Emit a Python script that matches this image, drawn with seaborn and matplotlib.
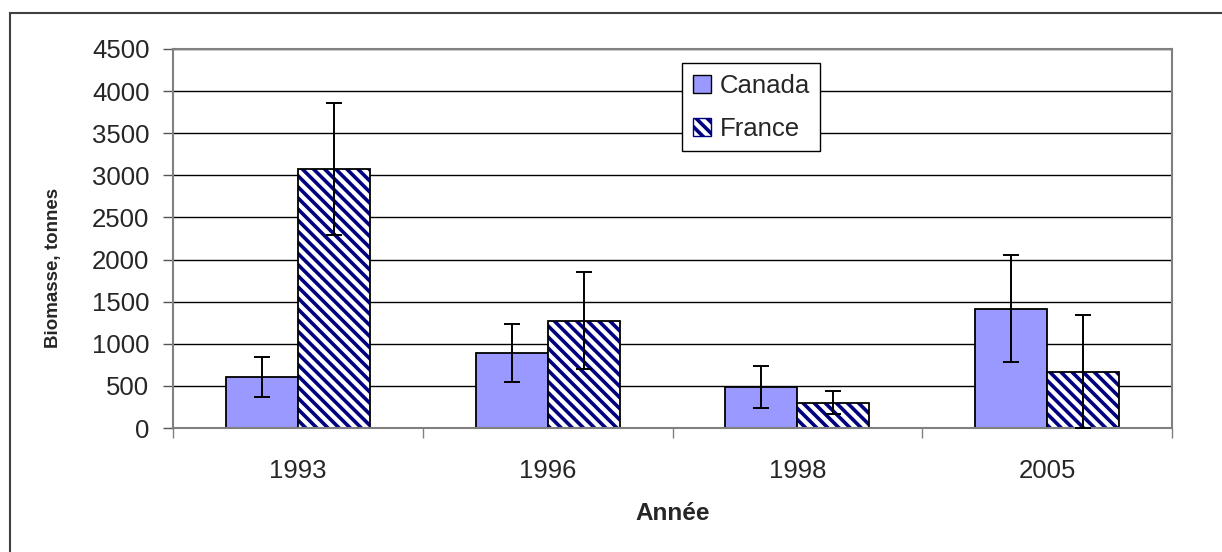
import matplotlib
matplotlib.use("Agg")
import matplotlib.pyplot as plt
from matplotlib.patches import Patch, Rectangle
import seaborn as sns
import pandas as pd
import numpy as np

years = ["1993", "1996", "1998", "2005"]
countries = ["Canada", "France"]
canada = [605, 890, 483, 1415]
france = [3075, 1275, 300, 665]
canada_err = [240, 343, 250, 635]
france_err = [780, 575, 136, 680]
yticks = [0, 500, 1000, 1500, 2000, 2500, 3000, 3500, 4000, 4500]

sns.set_theme(style="white")
plt.rcParams["font.family"] = ["Liberation Sans", "DejaVu Sans"]
plt.rcParams["hatch.linewidth"] = 2.6

HATCH = "\\\\\\"

df = pd.DataFrame({
    "Année": years * 2,
    "Pays": ["Canada"] * 4 + ["France"] * 4,
    "Biomasse": canada + france,
})

fig = plt.figure(figsize=(12.22, 5.52), dpi=100)
ax = fig.add_axes([173 / 1222, 1 - 428 / 552, (1172 - 173) / 1222, (428 - 49) / 552])

sns.barplot(data=df, x="Année", y="Biomasse", hue="Pays", order=years,
            hue_order=countries, palette={"Canada": "#9999FF", "France": "white"},
            saturation=1, width=0.576, errorbar=None, edgecolor="black",
            linewidth=1.3, ax=ax, legend=False, zorder=2)

bars = [p for p in ax.patches if isinstance(p, Rectangle)]
can_bars = bars[:4]
fr_bars = bars[4:8]
for p in fr_bars:
    p.set_hatch(HATCH)
    p.set_edgecolor("#000080")
    p.set_linewidth(0)
    ax.add_patch(Rectangle(p.get_xy(), p.get_width(), p.get_height(), fill=False,
                           edgecolor="black", linewidth=1.3, zorder=2.5))

for blist, vals, errs in [(can_bars, canada, canada_err), (fr_bars, france, france_err)]:
    xs = [p.get_x() + p.get_width() / 2 for p in blist]
    lower = [min(e, v) for v, e in zip(vals, errs)]
    ax.errorbar(xs, vals, yerr=[lower, errs], fmt="none", ecolor="black",
                elinewidth=1.4, capsize=5.5, capthick=1.4, zorder=3)

ax.set_ylim(0, 4500)
ax.set_xlim(-0.5, 3.5)
ax.set_yticks(yticks)
ax.set_yticklabels([str(v) for v in yticks])
ax.yaxis.grid(True, color="black", linewidth=1.0)
ax.set_axisbelow(True)
for s in ax.spines.values():
    s.set_visible(True)
    s.set_color("#808080")
    s.set_linewidth(1.5)

ax.tick_params(axis="y", which="major", direction="out", length=7, width=1,
               color="#555555", labelsize=18.5, pad=10, left=True)
ax.tick_params(axis="x", which="major", length=0, labelsize=18.5, pad=22)
ax.set_xticks([-0.5, 0.5, 1.5, 2.5, 3.5], minor=True)
ax.tick_params(axis="x", which="minor", direction="out", length=7, width=1,
               color="#808080", bottom=True)
ax.set_xlabel("")
ax.set_ylabel("")

fig.text(673 / 1222, 1 - 514 / 552, "Année", ha="center", va="center",
         fontsize=17.5, fontweight="bold")
fig.text(54 / 1222, 1 - 268 / 552, "Biomasse, tonnes", ha="center", va="center",
         rotation=90, fontsize=13.5, fontweight="bold")

handles = [Patch(facecolor="#9999FF", edgecolor="black", linewidth=1),
           Patch(facecolor="white", edgecolor="#000080", hatch=HATCH, linewidth=1)]
leg = ax.legend(handles, countries, loc="upper left", bbox_to_anchor=(0.51, 0.962),
                fontsize=18.5, frameon=True, fancybox=False, framealpha=1,
                edgecolor="black", handlelength=0.7, handleheight=0.7,
                handletextpad=0.35, labelspacing=0.75, borderpad=0.4,
                borderaxespad=0)
leg.get_frame().set_linewidth(1.0)

fig.add_artist(Rectangle((10 / 1222, -0.2), 1.2, 0.2 + (552 - 13) / 552,
                         transform=fig.transFigure, fill=False,
                         edgecolor="#404040", linewidth=1.5))

fig.savefig("out.png", dpi=100)
